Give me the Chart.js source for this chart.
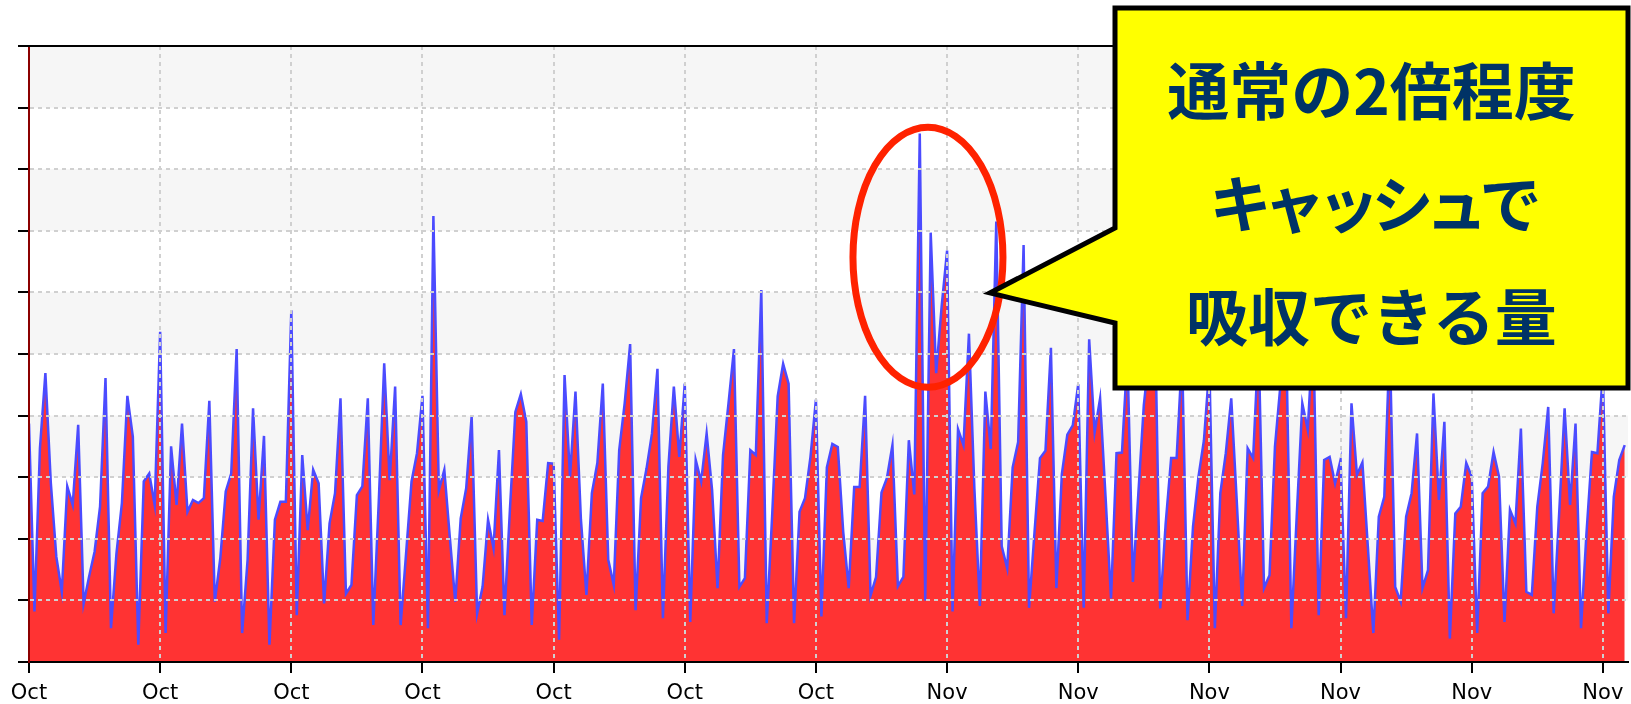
<!DOCTYPE html>
<html>
<head>
<meta charset="utf-8">
<script src="https://cdn.jsdelivr.net/npm/chart.js@4"></script>
<style>
  html, body { margin: 0; padding: 0; background: #fff; }
  #wrap { position: relative; width: 1631px; height: 704px; overflow: hidden; }
  #callout { position: absolute; left: 0; top: 0; }
  #calloutText {
    position: absolute; left: 1115px; width: 513px; top: 32px;
    text-align: center; color: #003366;
    font-family: "Noto Sans CJK JP", "Noto Sans CJK SC", sans-serif;
    font-weight: 700; font-size: 62px; line-height: 113px;
  }
  #calloutText .kana { letter-spacing: -8px; }
</style>
</head>
<body>
<div id="wrap">
  <canvas id="chart" width="1631" height="704"></canvas>
  <svg id="callout" width="1631" height="704">
    <polygon points="1115,8 1628,8 1628,388 1115,388 1115,323 990,293 1115,228"
             fill="#ffff00" stroke="#000" stroke-width="5" stroke-linejoin="miter"/>
  </svg>
  <div id="calloutText">
    <div>通常の2倍程度</div>
    <div class="kana">キャッシュで</div>
    <div>吸収できる量</div>
  </div>
</div>
<script>
// one sample per step, 24 steps between x ticks; values in % of the y range
const traffic = [
  38.7, 8.2, 34.7, 46.9, 29.0, 17.1, 11.4, 28.5, 25.5, 38.5, 9.5, 13.9, 17.9, 25.2, 46.1, 5.5, 17.6, 25.8, 43.2, 36.6, 2.8, 29.3, 30.6, 25.5,
  53.6, 4.7, 35.0, 25.5, 38.7, 24.4, 26.3, 25.8, 26.6, 42.4, 9.8, 16.8, 27.7, 30.6, 50.8, 4.7, 16.6, 41.2, 23.1, 36.7, 2.8, 23.1, 26.0, 26.0,
  57.1, 7.6, 33.6, 21.4, 31.2, 29.0, 9.5, 22.5, 27.4, 42.8, 11.1, 12.5, 27.1, 28.5, 42.8, 6.0, 26.0, 48.5, 29.5, 44.7, 6.0, 17.6, 29.3, 33.9,
  43.2, 5.5, 72.4, 27.9, 31.2, 20.3, 9.8, 23.3, 28.2, 39.9, 7.9, 12.2, 23.1, 18.5, 34.4, 7.6, 24.7, 40.6, 43.5, 39.0, 6.0, 23.1, 22.9, 32.3,
  32.2, 3.6, 46.6, 30.1, 43.9, 23.1, 10.9, 27.4, 32.3, 45.2, 16.6, 12.5, 34.4, 42.0, 51.6, 8.4, 26.6, 31.4, 37.1, 47.6, 7.1, 31.7, 44.7, 33.3,
  45.2, 6.5, 32.8, 29.3, 37.1, 27.9, 12.0, 33.6, 42.0, 50.8, 12.2, 13.6, 34.4, 33.6, 60.4, 6.3, 24.0, 43.1, 48.4, 45.2, 6.3, 24.4, 26.6, 33.3,
  42.6, 7.4, 31.6, 35.4, 34.9, 21.1, 12.0, 28.4, 28.4, 43.2, 10.8, 13.8, 27.5, 29.9, 35.2, 12.3, 13.8, 36.0, 27.2, 85.8, 10.0, 69.7, 46.9, 57.7,
  66.8, 8.2, 37.8, 35.2, 53.3, 28.1, 9.1, 43.9, 34.6, 71.5, 18.8, 15.2, 31.6, 35.7, 67.7, 8.8, 21.1, 33.1, 34.3, 51.0, 12.0, 30.5, 36.9, 38.4,
  45.1, 8.8, 52.4, 37.3, 42.8, 26.8, 10.3, 33.9, 34.0, 50.0, 13.0, 27.4, 41.7, 50.0, 58.0, 8.7, 22.5, 33.1, 33.1, 50.0, 6.8, 22.0, 30.1, 36.0,
  48.0, 5.5, 27.4, 33.9, 42.8, 26.3, 9.1, 34.7, 33.1, 52.0, 12.0, 14.1, 35.0, 45.0, 55.0, 5.5, 24.1, 42.0, 37.7, 54.0, 7.6, 32.8, 33.3, 29.0,
  32.8, 7.1, 42.0, 30.4, 32.4, 18.7, 4.7, 23.6, 26.8, 52.0, 12.2, 9.8, 23.6, 27.4, 37.1, 12.0, 14.9, 43.6, 26.3, 39.0, 3.8, 24.1, 25.2, 32.3,
  30.1, 4.7, 27.4, 28.5, 34.1, 30.1, 6.5, 24.7, 22.5, 37.9, 11.4, 10.9, 25.2, 32.3, 41.4, 7.9, 24.1, 41.2, 25.5, 38.7, 5.5, 20.9, 34.1, 33.9,
  47.0, 7.9, 26.8, 32.8, 35.2
];
const tickLabels = ['Oct', 'Oct', 'Oct', 'Oct', 'Oct', 'Oct', 'Oct', 'Nov', 'Nov', 'Nov', 'Nov', 'Nov', 'Nov'];
const stepsPerTick = 24;
const xEnd = 292.6;
const yTicks = [0, 10, 20, 30, 40, 50, 60, 70, 80, 90, 100];

// the circled spike
const spikeCenter = { x: 164.5, y: 65.7 };

const decorPlugin = {
  id: 'decor',
  beforeDraw(chart) {
    const { ctx, chartArea: a, scales: { y } } = chart;
    ctx.save();
    ctx.fillStyle = '#f6f6f6';
    // shade every other band, starting from the top one
    for (let i = yTicks.length - 1; i > 0; i -= 2) {
      const top = y.getPixelForValue(yTicks[i]);
      const bot = y.getPixelForValue(yTicks[i - 1]);
      ctx.fillRect(a.left, top, a.right - a.left, bot - top);
    }
    ctx.restore();
  },
  afterDraw(chart) {
    const { ctx, chartArea: a, scales: { x, y } } = chart;
    ctx.save();
    ctx.strokeStyle = '#000';
    ctx.lineWidth = 2;
    ctx.beginPath();
    ctx.moveTo(a.left - 11, a.top);
    ctx.lineTo(a.right, a.top);
    ctx.stroke();

    ctx.strokeStyle = '#ff2200';
    ctx.lineWidth = 7;
    ctx.beginPath();
    ctx.ellipse(x.getPixelForValue(spikeCenter.x), y.getPixelForValue(spikeCenter.y), 75, 130, 0, 0, Math.PI * 2);
    ctx.stroke();
    ctx.restore();
  }
};

new Chart(document.getElementById('chart'), {
  type: 'line',
  data: {
    datasets: [{
      data: traffic.map((v, i) => ({ x: i, y: v })),
      borderColor: '#4b4bff',
      borderWidth: 2.5,
      backgroundColor: '#ff3333',
      fill: 'origin',
      pointRadius: 0,
      tension: 0
    }]
  },
  options: {
    responsive: false,
    animation: false,
    layout: { padding: { left: 18, right: 3, top: 46, bottom: 0 } },
    plugins: { legend: { display: false }, tooltip: { enabled: false } },
    scales: {
      x: {
        type: 'linear',
        min: 0,
        max: xEnd,
        afterBuildTicks: s => { s.ticks = tickLabels.map((_, i) => ({ value: i * stepsPerTick })); },
        afterFit: s => { s.height = 42; s.paddingLeft = 0; s.paddingRight = 0; },
        grid: { color: '#d0d0d0', lineWidth: 2, tickLength: 11, tickColor: '#000', tickWidth: 2, z: 1 },
        border: { color: '#000', width: 2, dash: [4, 4], z: 2 },
        ticks: {
          padding: 8, maxRotation: 0, autoSkip: false, color: '#000',
          font: { family: 'DejaVu Sans', size: 21 },
          callback: (v, i) => tickLabels[i]
        }
      },
      y: {
        min: 0,
        max: 100,
        afterBuildTicks: s => { s.ticks = yTicks.map(v => ({ value: v })); },
        afterFit: s => { s.width = 11; },
        grid: { color: '#d0d0d0', lineWidth: 2, tickLength: 11, tickColor: '#000', tickWidth: 2, z: 1 },
        border: { color: '#8b0000', width: 2, dash: [4, 4], z: 2 },
        ticks: { display: false }
      }
    }
  },
  plugins: [decorPlugin]
});
</script>
</body>
</html>
